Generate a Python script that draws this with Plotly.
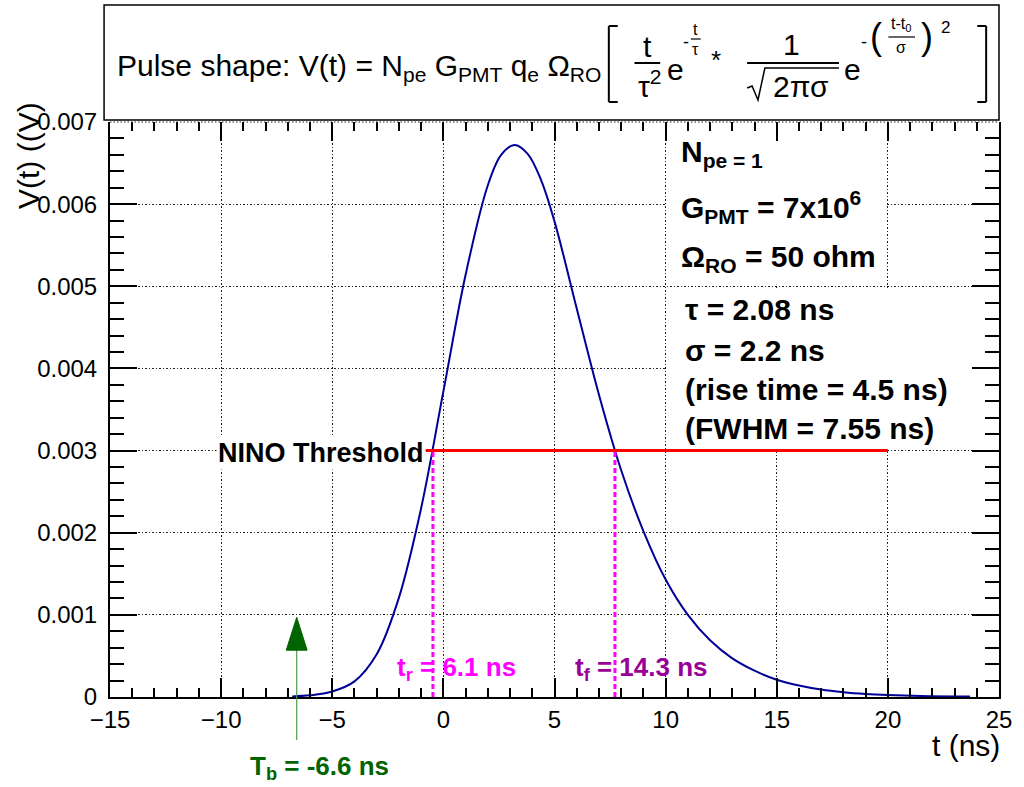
import plotly.graph_objects as go

# ---------------- data ----------------
t_ns = [-6.8, -6.0, -5.0, -4.0, -3.0, -2.0, -1.0, 0.0, 1.0, 2.0, 2.6, 3.2, 3.8, 4.4, 5.0,
        6.0, 7.0, 8.0, 9.0, 10.0, 11.0, 12.0, 13.0, 14.0, 15.0, 16.0, 17.0, 18.0, 19.0,
        20.0, 21.5, 23.7]
v_volt = [0.000007, 0.00002, 0.000067, 0.00019, 0.00052, 0.00121, 0.0023, 0.00372,
          0.00514, 0.00623, 0.0066, 0.00672, 0.00661, 0.00629, 0.00579, 0.00473, 0.00368,
          0.00276, 0.00202, 0.00143, 0.001, 0.00069, 0.00047, 0.00032, 0.00021, 0.00014,
          0.00009, 0.000058, 0.000037, 0.000024, 0.000012, 0.000005]

threshold_v = 0.003
threshold_x = [-0.8, 20.0]
t_rise_cross = -0.47
t_fall_cross = 7.72
t_b = -6.6
arrow_tip_v = 0.00097
arrow_base_v = 0.00057

x_range = [-15, 25]
y_range = [0, 0.007]
x_tick_vals = [-15, -10, -5, 0, 5, 10, 15, 20, 25]
y_tick_vals = [0, 0.001, 0.002, 0.003, 0.004, 0.005, 0.006, 0.007]
y_tick_text = ["0", "0.001", "0.002", "0.003", "0.004", "0.005", "0.006", "0.007"]

# ---------------- layout helpers ----------------
W, H = 1024, 787
L, R, T, B = 110, 14, 122, 90
PW, PH = W - L - R, H - T - B


def px(x):
    return (x - L) / PW


def py(y):
    return (H - B - y) / PH


SANS = "Liberation Sans, Arial, sans-serif"

fig = go.Figure()

fig.add_trace(go.Scatter(x=t_ns, y=v_volt, mode="lines",
                         line=dict(color="#000099", width=2, shape="spline", smoothing=1.0),
                         hoverinfo="skip", showlegend=False))
fig.add_trace(go.Scatter(x=threshold_x, y=[threshold_v, threshold_v], mode="lines",
                         line=dict(color="#ff0000", width=3), showlegend=False, hoverinfo="skip"))
fig.add_trace(go.Scatter(x=[t_rise_cross, t_rise_cross], y=[0, threshold_v], mode="lines",
                         line=dict(color="#ff00ff", width=3, dash="5px,3px"),
                         showlegend=False, hoverinfo="skip"))
fig.add_trace(go.Scatter(x=[t_fall_cross, t_fall_cross], y=[0, threshold_v], mode="lines",
                         line=dict(color="#ff00ff", width=3, dash="5px,3px"),
                         showlegend=False, hoverinfo="skip"))
# dummy trace for top axis
fig.add_trace(go.Scatter(x=[x_range[0]], y=[0], xaxis="x2", mode="markers",
                         marker=dict(opacity=0), showlegend=False, hoverinfo="skip"))

shapes = []
# white boxes behind the parameter text (hide grid)
shapes.append(dict(type="rect", xref="x", yref="y", x0=10.06, x1=19.94, y0=0.00502, y1=0.00699,
                   fillcolor="white", line=dict(width=0), layer="between"))
shapes.append(dict(type="rect", xref="x", yref="y", x0=10.06, x1=25, y0=0.00302, y1=0.00498,
                   fillcolor="white", line=dict(width=0), layer="between"))
# dotted top frame
shapes.append(dict(type="line", xref="paper", yref="paper", x0=0, x1=1, y0=1, y1=1,
                   line=dict(color="#222", width=1, dash="1.5px,2px")))
# arrow for T_b
shapes.append(dict(type="line", xref="x", yref="paper", x0=t_b, x1=t_b, y0=py(740), y1=py(645),
                   line=dict(color="#4f9a4f", width=1.2)))
hw = 0.47
shapes.append(dict(type="path", xref="x", yref="y",
                   path=f"M {t_b - hw},{arrow_base_v} L {t_b + hw},{arrow_base_v} L {t_b},{arrow_tip_v} Z",
                   fillcolor="#006400", line=dict(color="#006400", width=1)))

# title box
shapes.append(dict(type="rect", xref="paper", yref="paper", x0=px(104), x1=px(1010),
                   y0=py(120), y1=py(5), fillcolor="white", line=dict(color="black", width=1.5)))


def pline(x0, y0, x1, y1, w=2):
    shapes.append(dict(type="line", xref="paper", yref="paper", x0=px(x0), y0=py(y0),
                       x1=px(x1), y1=py(y1), line=dict(color="black", width=w)))


# brackets
pline(615, 26, 615, 102)
pline(615, 26, 624, 26)
pline(615, 102, 624, 102)
pline(997, 26, 997, 102)
pline(988, 26, 997, 26)
pline(988, 102, 997, 102)
# fraction lines
pline(641, 63, 667, 63)
pline(698, 39, 708, 39, 1.2)
pline(755, 63, 848, 63)
pline(898, 37, 925, 37, 1.2)
# sqrt sign
shapes.append(dict(type="path", xref="paper", yref="paper",
                   path=f"M {px(755)},{py(88)} L {px(760)},{py(86)} L {px(766)},{py(100)} "
                        f"L {px(773)},{py(68)} L {px(848)},{py(68)}",
                   line=dict(color="black", width=1.5)))

ann = []


def txt(s, x, y, size, color="black", xanchor="center", yanchor="middle", family=SANS, bg=None):
    d = dict(text=s, xref="paper", yref="paper", x=px(x), y=py(y), showarrow=False,
             xanchor=xanchor, yanchor=yanchor, font=dict(size=size, color=color, family=family))
    if bg:
        d["bgcolor"] = bg
    ann.append(d)


# title formula
txt("Pulse shape: V(t) = N<sub>pe</sub> G<sub>PMT</sub> q<sub>e</sub> Ω<sub>RO</sub>",
    115, 68, 30, xanchor="left")
txt("t", 654, 46, 30)
txt("τ<sup>2</sup>", 657, 84, 30)
txt("e", 682, 70, 30)
txt("-", 693, 42, 18)
txt("t", 703, 29, 16)
txt("τ", 703, 49, 16)
txt("*", 724, 60, 26)
txt("1", 800, 45, 30)
txt("2πσ", 810, 86, 30)
txt("e", 862, 70, 30)
txt("-", 873, 42, 18)
txt("(", 885, 37, 36)
txt("t-t<sub>0</sub>", 911, 24, 16)
txt("σ", 911, 48, 16)
txt(")", 937, 37, 36)
txt("2", 956, 28, 17)

# parameter text
txt("<b>N<sub>pe = 1</sub></b>", 686, 153, 30, xanchor="left")
txt("<b>G<sub>PMT</sub> = 7x10<sup>6</sup></b>", 686, 207, 30, xanchor="left")
txt("<b>Ω<sub>RO</sub> = 50 ohm</b>", 686, 258, 30, xanchor="left")
txt("<b>τ = 2.08 ns</b>", 690, 309, 30, xanchor="left")
txt("<b>σ = 2.2 ns</b>", 690, 350, 30, xanchor="left")
txt("<b>(rise time = 4.5 ns)</b>", 690, 389, 30, xanchor="left")
txt("<b>(FWHM = 7.55 ns)</b>", 690, 428, 30, xanchor="left")

txt("<b>NINO Threshold</b>", 430, 453, 27, xanchor="right", bg="white")
txt("<b>t<sub>r</sub> = 6.1 ns</b>", 461, 668, 26, color="#ff00ff")
txt("<b>t<sub>f</sub> = 14.3 ns</b>", 648, 668, 26, color="#990099")
txt("<b>T<sub>b</sub> = -6.6 ns</b>", 322, 767, 26, color="#006400")

# axis titles
txt("t (ns)", 1013, 745, 30, xanchor="right")
ann.append(dict(text="V(t) ((V)", xref="paper", yref="paper", x=px(27), y=py(156),
                showarrow=False, textangle=-90, xanchor="center", yanchor="middle",
                font=dict(size=30, color="black", family=SANS)))

grid_dash = "1.5px,2px"
fig.update_layout(
    width=W, height=H, margin=dict(l=L, r=R, t=T, b=B, pad=0),
    paper_bgcolor="white", plot_bgcolor="white", showlegend=False,
    shapes=shapes, annotations=ann,
    xaxis=dict(range=x_range, tickvals=x_tick_vals, ticks="inside", ticklen=19, tickwidth=1.5,
               tickcolor="black", showline=True, linecolor="black", linewidth=2, mirror=False,
               showgrid=True, gridcolor="#222", gridwidth=1, griddash=grid_dash, zeroline=False,
               tickfont=dict(family=SANS, size=24, color="black"),
               minor=dict(ticks="inside", ticklen=9, tickmode="linear", dtick=1, tick0=0,
                          tickcolor="black", tickwidth=1.5, showgrid=False)),
    xaxis2=dict(range=x_range, overlaying="x", side="top", anchor="y", tickvals=x_tick_vals,
                ticks="inside", ticklen=19, tickwidth=1.5, tickcolor="black",
                showticklabels=False, showline=False, showgrid=False, zeroline=False,
                minor=dict(ticks="inside", ticklen=9, tickmode="linear", dtick=1, tick0=0,
                           tickcolor="black", tickwidth=1.5, showgrid=False)),
    yaxis=dict(range=y_range, tickvals=y_tick_vals, ticktext=y_tick_text, ticks="inside",
               ticklen=27, tickwidth=1.5, tickcolor="black", showline=True, linecolor="black",
               linewidth=2, mirror="ticks", showgrid=True, gridcolor="#222", gridwidth=1,
               griddash=grid_dash, zeroline=False, ticklabelstandoff=6,
               tickfont=dict(family=SANS, size=24, color="black"),
               minor=dict(ticks="inside", ticklen=14, tickmode="linear", dtick=0.0002, tick0=0,
                          tickcolor="black", tickwidth=1.5, showgrid=False)),
)

fig.write_html("out.html", config={"displayModeBar": False},
               post_script="document.body.style.margin='0';document.body.style.overflow='hidden';")
